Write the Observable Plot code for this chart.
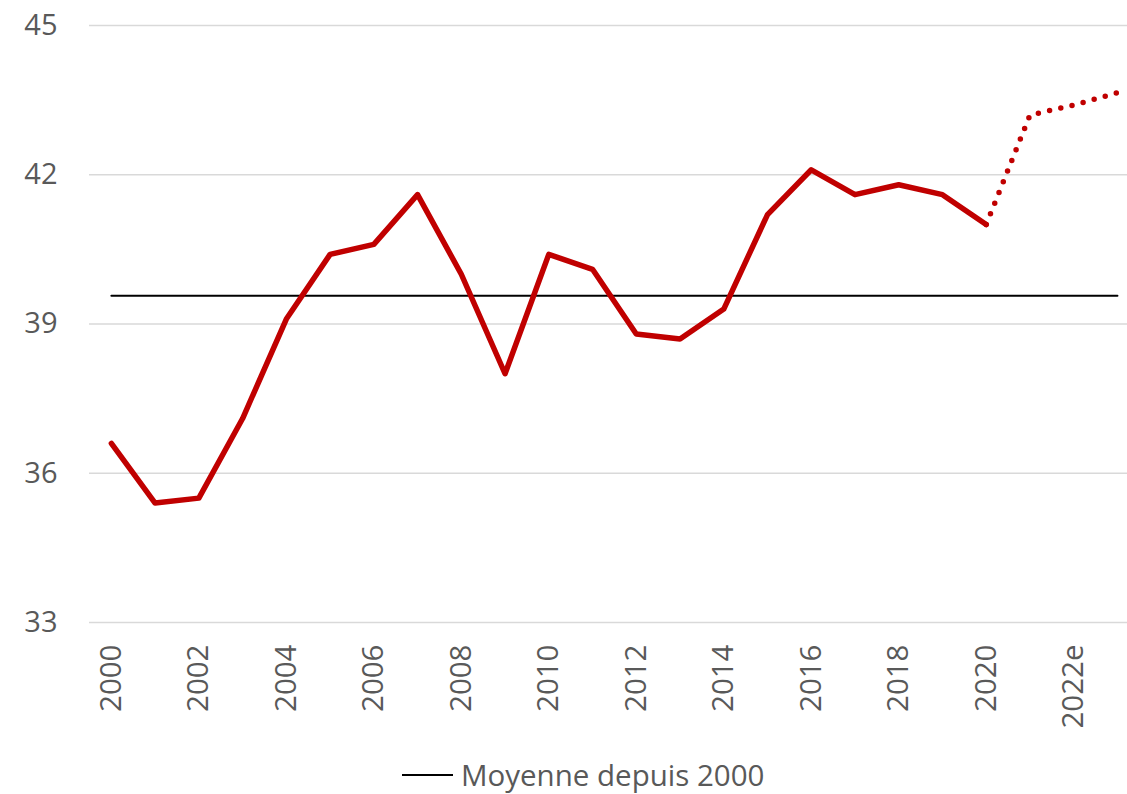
<!DOCTYPE html>
<html>
<head>
<meta charset="utf-8">
<script src="https://cdn.jsdelivr.net/npm/d3@7"></script>
<script src="https://cdn.jsdelivr.net/npm/@observablehq/plot@0.6"></script>
<style>
  html, body { margin: 0; padding: 0; background: #fff; overflow: hidden; }
  body { font-family: "Open Sans", "Noto Sans", sans-serif; }
  #legend { height: 54px; position: relative; }
  #legend .item { position: absolute; left: 402px; top: 15px; display: flex; align-items: center; color: #595959; font-size: 29.5px; line-height: 40px; }
  #legend .swatch { width: 51px; height: 0; border-top: 2.5px solid #000; margin-right: 8px; }
</style>
</head>
<body>
<div id="chart"></div>
<div id="legend"><div class="item"><div class="swatch"></div><span>Moyenne depuis 2000</span></div></div>
<script>
const years = [2000, 2001, 2002, 2003, 2004, 2005, 2006, 2007, 2008, 2009, 2010, 2011,
               2012, 2013, 2014, 2015, 2016, 2017, 2018, 2019, 2020, 2021, 2022, 2023];
const values = [36.6, 35.4, 35.5, 37.1, 39.1, 40.4, 40.6, 41.6, 40.0, 38.0, 40.4, 40.1,
                38.8, 38.7, 39.3, 41.2, 42.1, 41.6, 41.8, 41.6, 41.0, 43.2, 43.4, 43.65];
const lastActualYear = 2020;
const meanValue = 39.57;
const meanLabel = "Moyenne depuis 2000";
const xTickYears = [2000, 2002, 2004, 2006, 2008, 2010, 2012, 2014, 2016, 2018, 2020, 2022];
const xTickLabels = ["2000", "2002", "2004", "2006", "2008", "2010", "2012", "2014", "2016", "2018", "2020", "2022e"];
const yTicks = [33, 36, 39, 42, 45];

const data = years.map((year, i) => ({year, value: values[i]}));
const actual = data.filter(d => d.year <= lastActualYear);
const forecast = data.filter(d => d.year >= lastActualYear);
const meanData = years.map(year => ({year, value: meanValue}));

const chart = Plot.plot({
  width: 1127,
  height: 740,
  marginLeft: 89,
  marginRight: 0,
  marginTop: 25,
  marginBottom: 118,
  style: { fontFamily: "'Open Sans', 'Noto Sans', sans-serif", background: "#fff", overflow: "visible" },
  x: { domain: [1999.5, 2023.23], ticks: xTickYears, label: null },
  y: { domain: [33, 45], ticks: yTicks, label: null },
  marks: [
    Plot.ruleY(yTicks, { stroke: "#d9d9d9", strokeWidth: 1.6 }),
    Plot.axisY({ ticks: yTicks, tickSize: 0, tickPadding: 32, fontSize: 29, color: "#595959", label: null }),
    Plot.axisX({ ticks: xTickYears, tickSize: 0, tickPadding: 22, tickRotate: -90, fontSize: 29.5, color: "#595959", label: null,
      tickFormat: d => xTickLabels[xTickYears.indexOf(d)] }),
    Plot.line(meanData, { x: "year", y: "value", stroke: "#000", strokeWidth: 2 }),
    Plot.line(actual, { x: "year", y: "value", stroke: "#C00000", strokeWidth: 5.5, strokeLinejoin: "round" }),
    Plot.line(forecast, { x: "year", y: "value", stroke: "#C00000", strokeWidth: 5.5, strokeLinecap: "round", strokeDasharray: "0 11.5" })
  ]
});
document.getElementById("chart").appendChild(chart);
</script>
</body>
</html>
